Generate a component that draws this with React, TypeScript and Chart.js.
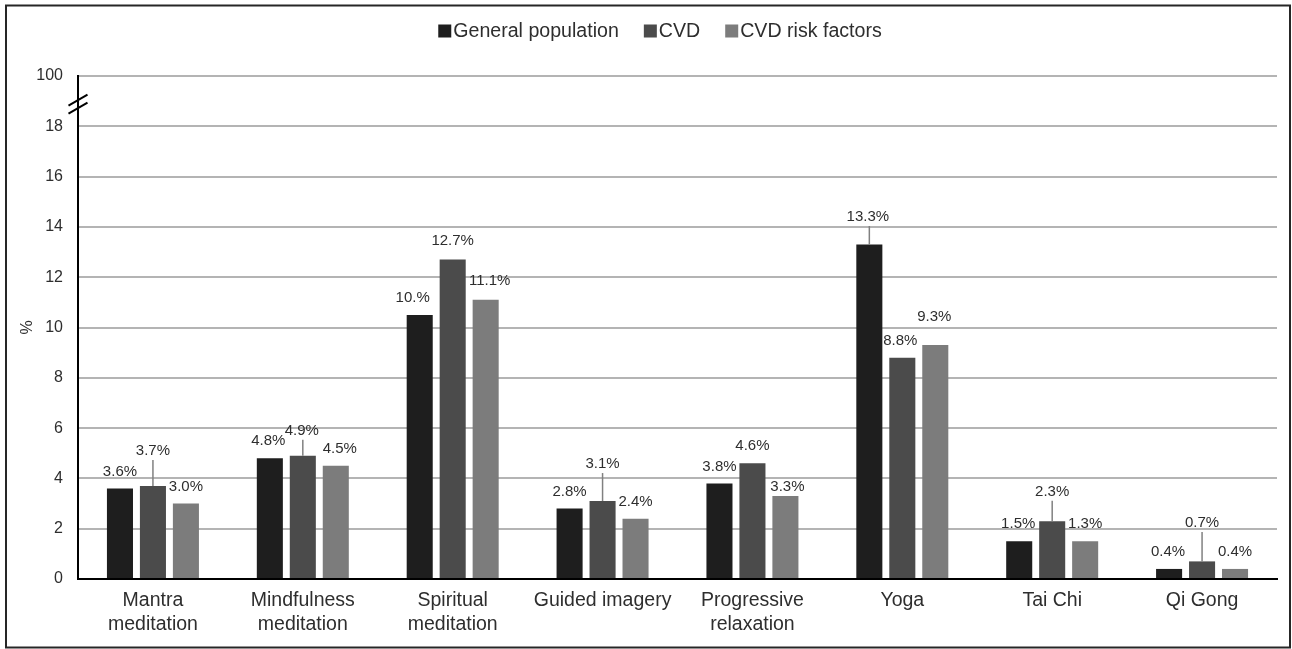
import React, { useEffect, useRef } from 'react';
import { Chart, registerables } from 'chart.js';

Chart.register(...registerables);

// ---- data ----
const categories: (string | string[])[] = [
  ['Mantra', 'meditation'],
  ['Mindfulness', 'meditation'],
  ['Spiritual', 'meditation'],
  'Guided imagery',
  ['Progressive', 'relaxation'],
  'Yoga',
  'Tai Chi',
  'Qi Gong',
];
const seriesNames = ['General population', 'CVD', 'CVD risk factors'];
const generalPopulation = [3.6, 4.8, 10.5, 2.8, 3.8, 13.3, 1.5, 0.4];
const cvd = [3.7, 4.9, 12.7, 3.1, 4.6, 8.8, 2.3, 0.7];
const cvdRiskFactors = [3.0, 4.5, 11.1, 2.4, 3.3, 9.3, 1.5, 0.4];
const generalPopulationLabels = ['3.6%', '4.8%', '10.%', '2.8%', '3.8%', '13.3%', '1.5%', '0.4%'];
const cvdLabels = ['3.7%', '4.9%', '12.7%', '3.1%', '4.6%', '8.8%', '2.3%', '0.7%'];
const cvdRiskFactorsLabels = ['3.0%', '4.5%', '11.1%', '2.4%', '3.3%', '9.3%', '1.3%', '0.4%'];
const yTickLabels = ['0', '2', '4', '6', '8', '10', '12', '14', '16', '18', '100'];

// ---- styles ----
const COLORS = ['#1e1e1e', '#4b4b4b', '#7c7c7c'];
const FONT = '"Liberation Sans", Arial, sans-serif';
const TEXT = '#2e2e2e';
// label nudges [dx, dy, leader] per category, per series
const SHIFT: [number, number, boolean][][] = [
  [[0, 0, false], [0, -18, true], [0, 0, false]],
  [[-1.5, 0, false], [-1, -8, true], [4, 0, false]],
  [[-7, 0, false], [0, -1.5, false], [4, -1.5, false]],
  [[0, 0, false], [0, -20, true], [0, 0, false]],
  [[0, 0, false], [0, 0, false], [2, 8, false]],
  [[-1.5, -10.5, true], [-2, 0, false], [-1, -11.5, false]],
  [[-1, 0, false], [0, -12.5, true], [0, 0, false]],
  [[-1, 0, false], [0, -21.5, true], [0, 0, false]],
];
const labelSets = [generalPopulationLabels, cvdLabels, cvdRiskFactorsLabels];

const annotate = {
  id: 'annotate',
  afterDatasetsDraw(chart: any) {
    const ctx = chart.ctx;
    ctx.save();
    ctx.font = `15px ${FONT}`;
    ctx.fillStyle = TEXT;
    ctx.textAlign = 'center';
    ctx.textBaseline = 'middle';
    ctx.strokeStyle = '#808080';
    ctx.lineWidth = 1.5;
    chart.data.datasets.forEach((_ds: any, di: number) => {
      const meta = chart.getDatasetMeta(di);
      meta.data.forEach((bar: any, i: number) => {
        const [dx, dy, leader] = SHIFT[i][di];
        const x = bar.x + dx;
        const y = bar.y - 17 + dy;
        ctx.fillText(labelSets[di][i], x, y);
        if (leader) {
          ctx.beginPath();
          ctx.moveTo(bar.x, y + 9);
          ctx.lineTo(bar.x, bar.y);
          ctx.stroke();
        }
      });
    });
    ctx.restore();
  },
  afterDraw(chart: any) {
    const ctx = chart.ctx;
    const yScale = chart.scales.y;
    const left = chart.chartArea.left;
    ctx.save();
    // axis break marks
    const mid = (yScale.getPixelForValue(18) + yScale.getPixelForValue(20)) / 2;
    ctx.strokeStyle = '#000';
    ctx.lineWidth = 2;
    [mid - 1, mid + 7].forEach((cy) => {
      ctx.beginPath();
      ctx.moveTo(left - 9.5, cy + 5.5);
      ctx.lineTo(left + 9.5, cy - 5.5);
      ctx.stroke();
    });
    // legend
    ctx.font = `19.6px ${FONT}`;
    ctx.textBaseline = 'middle';
    ctx.textAlign = 'left';
    const box = 13;
    const gapAfterBox = 2;
    const gapBetween = 25;
    const widths = seriesNames.map((n) => ctx.measureText(n).width);
    const total = widths.reduce((a, w) => a + box + gapAfterBox + w, 0) + gapBetween * (seriesNames.length - 1);
    let x = 660 - total / 2;
    const ly = 31;
    seriesNames.forEach((n, i) => {
      ctx.fillStyle = COLORS[i];
      ctx.fillRect(x, ly - 6.5, box, box);
      ctx.fillStyle = TEXT;
      ctx.fillText(n, x + box + gapAfterBox, ly + 1);
      x += box + gapAfterBox + widths[i] + gapBetween;
    });
    // frame
    ctx.strokeStyle = '#262626';
    ctx.lineWidth = 2;
    ctx.strokeRect(6, 5.5, 1284, 642);
    ctx.restore();
  },
};

export default function App() {
  const ref = useRef<HTMLCanvasElement | null>(null);
  useEffect(() => {
    if (!ref.current) return;
    const chart = new Chart(ref.current, {
      type: 'bar',
      data: {
        labels: categories as any,
        datasets: [
          { label: seriesNames[0], data: generalPopulation, backgroundColor: COLORS[0] },
          { label: seriesNames[1], data: cvd, backgroundColor: COLORS[1] },
          { label: seriesNames[2], data: cvdRiskFactors, backgroundColor: COLORS[2] },
        ],
      },
      options: {
        responsive: false,
        animation: false,
        devicePixelRatio: 1,
        layout: { padding: { left: 0, right: 15, top: 76, bottom: 0 } },
        datasets: { bar: { categoryPercentage: 0.66, barPercentage: 0.79 } },
        plugins: { legend: { display: false }, tooltip: { enabled: false } },
        scales: {
          x: {
            grid: { display: false, drawTicks: false },
            border: { display: true, color: '#000', width: 2 },
            ticks: {
              autoSkip: false,
              maxRotation: 0,
              minRotation: 0,
              padding: 10,
              color: TEXT,
              font: { family: FONT, size: 19.5, lineHeight: 1.23 },
            },
            afterFit: (s: any) => { s.height = 70; },
          },
          y: {
            min: 0,
            max: 20,
            grid: { color: '#b4b4b4', lineWidth: 2, drawTicks: false },
            border: { display: true, color: '#000', width: 2 },
            ticks: {
              stepSize: 2,
              padding: 15,
              color: TEXT,
              font: { family: FONT, size: 16 },
              callback: (_v: any, i: number) => yTickLabels[i],
            },
            title: {
              display: true,
              text: '%',
              color: TEXT,
              font: { family: FONT, size: 16 },
              padding: { top: 18, bottom: 0 },
            },
            afterFit: (s: any) => { s.width = 78; },
          },
        },
      },
      plugins: [annotate],
    });
    return () => chart.destroy();
  }, []);
  return (
    <div style={{ position: 'absolute', left: 0, top: 0, width: 1292, height: 649, background: '#fff' }}>
      <canvas ref={ref} width={1292} height={649} style={{ display: 'block' }} />
    </div>
  );
}
